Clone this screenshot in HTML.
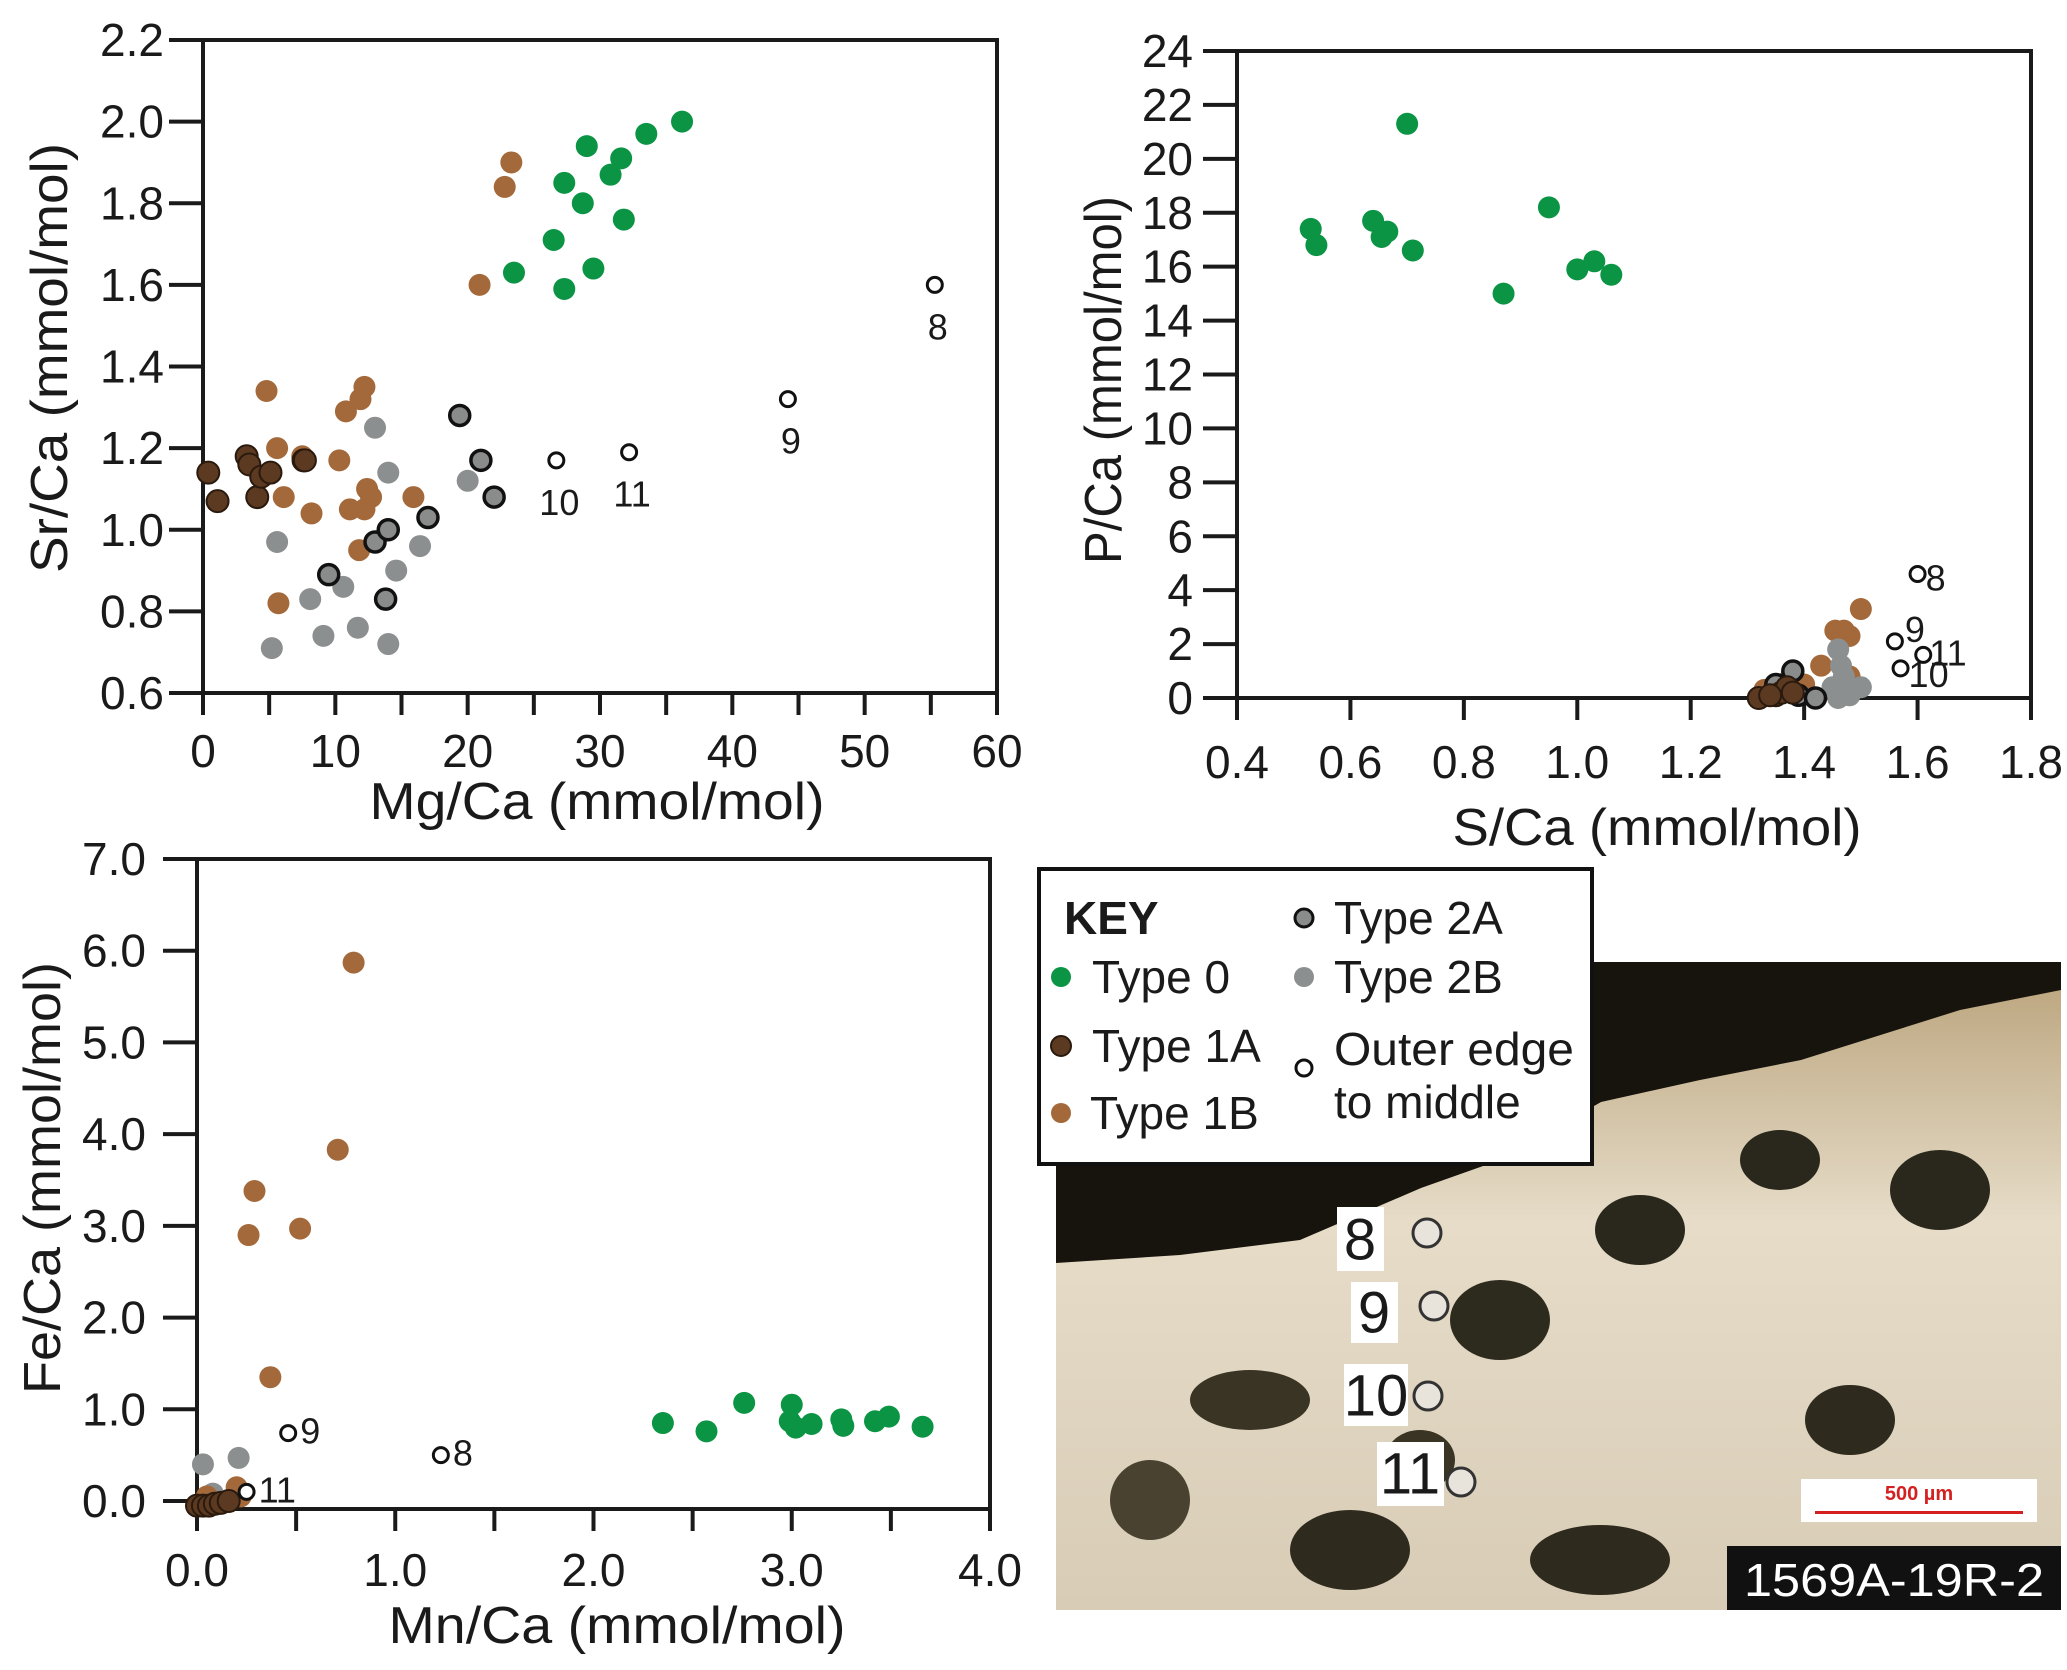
<!DOCTYPE html>
<html><head><meta charset="utf-8">
<style>
html,body{margin:0;padding:0;background:#fff;}
svg{display:block;}
text{font-family:"Liberation Sans",sans-serif;fill:#1a1a1a;}
</style></head>
<body>
<svg id="fig" width="2067" height="1670" viewBox="0 0 2067 1670" xmlns="http://www.w3.org/2000/svg">
  <rect width="2067" height="1670" fill="#fff"/>
  <g>
    <defs>
      <clipPath id="pc"><rect x="1056" y="962" width="1005" height="648"/></clipPath>
      <linearGradient id="bg" x1="0" y1="0" x2="0" y2="1">
        <stop offset="0" stop-color="#b9a27a"/><stop offset="0.4" stop-color="#e6dcc8"/><stop offset="1" stop-color="#d8ccb6"/>
      </linearGradient>
    </defs>
    <g clip-path="url(#pc)">
      <rect x="1056" y="962" width="1005" height="648" fill="url(#bg)"/>
      <ellipse cx="1250" cy="1400" rx="60" ry="30" fill="#3a3424"/>
      <ellipse cx="1500" cy="1320" rx="50" ry="40" fill="#2d2a1e"/>
      <ellipse cx="1640" cy="1230" rx="45" ry="35" fill="#2a281c"/>
      <ellipse cx="1780" cy="1160" rx="40" ry="30" fill="#2a281c"/>
      <ellipse cx="1940" cy="1190" rx="50" ry="40" fill="#2a281c"/>
      <ellipse cx="1350" cy="1550" rx="60" ry="40" fill="#2e2a1e"/>
      <ellipse cx="1600" cy="1560" rx="70" ry="35" fill="#2e2a1e"/>
      <ellipse cx="1850" cy="1420" rx="45" ry="35" fill="#2e2a1e"/>
      <ellipse cx="1150" cy="1500" rx="40" ry="40" fill="#4a4230"/>
      <ellipse cx="1420" cy="1460" rx="35" ry="30" fill="#3a3424"/>
      <path d="M1056 962 L2061 962 L2061 990 L1960 1010 L1801 1060 L1700 1080 L1601 1102 L1500 1160 L1421 1188 L1300 1240 L1180 1255 L1056 1263 Z" fill="#16140d"/>
      <rect x="1727" y="1546" width="334" height="64" fill="#111"/>
    </g>
    <rect x="1801" y="1479" width="236" height="43" fill="#fff"/>
    <text x="1919" y="1500" font-size="20" font-weight="bold" text-anchor="middle" style="fill:#d42020">500 µm</text>
    <rect x="1815" y="1511" width="208" height="3" fill="#d42020"/>
    <text x="1894" y="1580" font-size="46" text-anchor="middle" dominant-baseline="central" textLength="300" lengthAdjust="spacingAndGlyphs" style="fill:#fff">1569A-19R-2</text>
    <rect x="1337" y="1207" width="47" height="64" fill="#fff"/>
    <text x="1360" y="1240" font-size="58" text-anchor="middle" dominant-baseline="central">8</text>
    <circle cx="1427" cy="1233" r="14" fill="#e8e4dc" stroke="#333" stroke-width="3"/>
    <rect x="1351" y="1282" width="47" height="61" fill="#fff"/>
    <text x="1374" y="1313" font-size="58" text-anchor="middle" dominant-baseline="central">9</text>
    <circle cx="1434" cy="1306" r="14" fill="#e8e4dc" stroke="#333" stroke-width="3"/>
    <rect x="1344" y="1364" width="64" height="62" fill="#fff"/>
    <text x="1376" y="1396" font-size="58" text-anchor="middle" dominant-baseline="central">10</text>
    <circle cx="1428" cy="1396" r="14" fill="#e8e4dc" stroke="#333" stroke-width="3"/>
    <rect x="1377" y="1442" width="67" height="64" fill="#fff"/>
    <text x="1410" y="1474" font-size="58" text-anchor="middle" dominant-baseline="central">11</text>
    <circle cx="1461" cy="1482" r="14" fill="#e8e4dc" stroke="#333" stroke-width="3"/>
  </g>
  <g>
    <rect x="1039" y="869" width="553" height="295" fill="#fff" stroke="#111" stroke-width="4"/>
    <text x="1064" y="918" font-size="46" font-weight="bold" dominant-baseline="central">KEY</text>
    <g><circle cx="1061" cy="977" r="10" fill="#0a9444"/><text x="1092" y="977" font-size="46" dominant-baseline="central">Type 0</text></g>
    <g><circle cx="1061" cy="1046" r="10" fill="#5c3a21" stroke="#2a1a0e" stroke-width="2"/><text x="1092" y="1046" font-size="46" dominant-baseline="central">Type 1A</text></g>
    <g><circle cx="1061" cy="1113" r="10" fill="#a4693a"/><text x="1090" y="1113" font-size="46" dominant-baseline="central">Type 1B</text></g>
    <g><circle cx="1304" cy="918" r="9" fill="#8a8c8c" stroke="#111" stroke-width="3"/><text x="1334" y="918" font-size="46" dominant-baseline="central">Type 2A</text></g>
    <g><circle cx="1304" cy="977" r="10" fill="#8c8f8f"/><text x="1334" y="977" font-size="46" dominant-baseline="central">Type 2B</text></g>
    <g><circle cx="1304" cy="1068" r="8" fill="#fff" stroke="#111" stroke-width="3"/><text x="1334" y="1049" font-size="46" dominant-baseline="central" textLength="240" lengthAdjust="spacingAndGlyphs">Outer edge</text><text x="1334" y="1102" font-size="46" dominant-baseline="central">to middle</text></g>
  </g>
  <g id="charts"></g>
</svg>
<script>
// ---------- Chart 1: Mg/Ca vs Sr/Ca ----------
const c1_type0_x = [23.5,27.3,26.5,27.3,28.7,29.0,29.5,30.8,31.6,31.8,33.5,36.2];
const c1_type0_y = [1.63,1.59,1.71,1.85,1.80,1.94,1.64,1.87,1.91,1.76,1.97,2.00];
const c1_type1b_x = [4.8,5.6,5.7,6.1,7.5,8.2,10.3,10.8,11.1,11.9,12.2,12.2,12.4,12.7,11.8,15.9,20.9,22.8,23.3];
const c1_type1b_y = [1.34,1.20,0.82,1.08,1.18,1.04,1.17,1.29,1.05,1.32,1.35,1.05,1.10,1.08,0.95,1.08,1.60,1.84,1.90];
const c1_type1a_x = [0.4,1.1,3.3,3.5,4.1,4.4,5.1,7.6,7.7];
const c1_type1a_y = [1.14,1.07,1.18,1.16,1.08,1.13,1.14,1.17,1.17];
const c1_type2a_x = [9.5,13.0,13.8,14.0,17.0,19.4,21.0,22.0];
const c1_type2a_y = [0.89,0.97,0.83,1.00,1.03,1.28,1.17,1.08];
const c1_type2b_x = [5.2,5.6,8.1,9.1,10.6,11.7,13.0,14.0,14.0,14.6,16.4,20.0];
const c1_type2b_y = [0.71,0.97,0.83,0.74,0.86,0.76,1.25,1.14,0.72,0.90,0.96,1.12];
const c1_outer_x = [55.3,44.2,26.7,32.2];
const c1_outer_y = [1.60,1.32,1.17,1.19];
const c1_outer_labels = ["8","9","10","11"];
const c1_xticks = [0,10,20,30,40,50,60];
const c1_yticks = [0.6,0.8,1.0,1.2,1.4,1.6,1.8,2.0,2.2];

// ---------- Chart 2: S/Ca vs P/Ca ----------
const c2_type0_x = [0.53,0.54,0.64,0.655,0.665,0.70,0.71,0.87,0.95,1.00,1.03,1.06];
const c2_type0_y = [17.4,16.8,17.7,17.1,17.3,21.3,16.6,15.0,18.2,15.9,16.2,15.7];
const c2_type1b_x = [1.50,1.455,1.47,1.48,1.43,1.40,1.33,1.37,1.48];
const c2_type1b_y = [3.3,2.5,2.5,2.3,1.2,0.5,0.3,0.6,0.8];
const c2_type1a_x = [1.32,1.35,1.36,1.37,1.38,1.34];
const c2_type1a_y = [0.0,0.1,0.2,0.4,0.2,0.1];
const c2_type2a_x = [1.38,1.35,1.39,1.42];
const c2_type2a_y = [1.0,0.5,0.1,0.0];
const c2_type2b_x = [1.46,1.465,1.47,1.45,1.46,1.48,1.50,1.47];
const c2_type2b_y = [1.8,1.2,0.8,0.4,0.0,0.1,0.4,0.3];
const c2_outer_x = [1.60,1.56,1.57,1.61];
const c2_outer_y = [4.6,2.1,1.1,1.6];
const c2_outer_labels = ["8","9","10","11"];
const c2_xticks = [0.4,0.6,0.8,1.0,1.2,1.4,1.6,1.8];
const c2_yticks = [0,2,4,6,8,10,12,14,16,18,20,22,24];

// ---------- Chart 3: Mn/Ca vs Fe/Ca ----------
const c3_type0_x = [2.35,2.57,2.76,3.0,2.99,3.02,3.10,3.25,3.26,3.42,3.49,3.66];
const c3_type0_y = [0.85,0.76,1.07,1.05,0.87,0.80,0.84,0.89,0.82,0.87,0.92,0.81];
const c3_type1b_x = [0.79,0.71,0.29,0.26,0.52,0.37,0.20,0.22,0.05];
const c3_type1b_y = [5.87,3.83,3.38,2.90,2.97,1.35,0.15,0.05,0.05];
const c3_type1a_x = [0.0,0.03,0.06,0.09,0.12,0.16];
const c3_type1a_y = [-0.05,-0.05,-0.05,-0.03,-0.02,0.0];
const c3_type2b_x = [0.03,0.21,0.08];
const c3_type2b_y = [0.40,0.47,0.08];
const c3_outer_x = [0.46,1.23,0.25];
const c3_outer_y = [0.74,0.50,0.10];
const c3_outer_labels = ["9","8","11"];
const c3_xticks = [0.0,1.0,2.0,3.0,4.0];
const c3_yticks = [0.0,1.0,2.0,3.0,4.0,5.0,6.0,7.0];

const NS = "http://www.w3.org/2000/svg";
const root = document.getElementById('charts');
function mk(tag, attrs, parent){
  const e = document.createElementNS(NS, tag);
  for (const k in attrs) e.setAttribute(k, attrs[k]);
  (parent||root).appendChild(e);
  return e;
}
const STY = {
  type0:{fill:"#0a9444",stroke:"none",sw:0,r:11},
  type1a:{fill:"#5c3a21",stroke:"#2a1a0e",sw:2,r:11},
  type1b:{fill:"#a4693a",stroke:"none",sw:0,r:11},
  type2a:{fill:"#8a8c8c",stroke:"#111",sw:3.5,r:10},
  type2b:{fill:"#8c8f8f",stroke:"none",sw:0,r:11},
  outer:{fill:"#fff",stroke:"#111",sw:3,r:7.5}
};
function chart(cfg){
  const g = mk('g', {});
  
  
  const sx = v => cfg.L + (v - cfg.x0)/(cfg.x1 - cfg.x0)*(cfg.R - cfg.L);
  const sy = v => cfg.B - (v - cfg.y0)/(cfg.y1 - cfg.y0)*(cfg.B - cfg.T);
  const frame = mk('rect', {x:cfg.L, y:cfg.T, width:cfg.R-cfg.L, height:cfg.B-cfg.T, fill:"none", stroke:"#1a1a1a", "stroke-width":4}, g);
  
  
  cfg.yticks.forEach(v => {
    const y = sy(v);
    const t = mk('line', {x1:cfg.L-34, x2:cfg.L, y1:y, y2:y, stroke:"#1a1a1a", "stroke-width":4}, g);
    
    
    const lb = mk('text', {x:cfg.ylabX, y:y, "font-size":46, "text-anchor":"end", "dominant-baseline":"central"}, g);
    lb.textContent = cfg.yfmt(v);
    
    
  });
  cfg.xminor.forEach(v => {
    const x = sx(v);
    const t = mk('line', {x1:x, x2:x, y1:cfg.B, y2:cfg.B+22, stroke:"#1a1a1a", "stroke-width":4}, g);
    
    
  });
  cfg.xticks.forEach(v => {
    const x = sx(v);
    const lb = mk('text', {x:x, y:cfg.xlabY, "font-size":46, "text-anchor":"middle", "dominant-baseline":"central"}, g);
    lb.textContent = cfg.xfmt(v);
    
    
  });
  const xt = mk('text', {x:cfg.xtX, y:cfg.xtY, "font-size":52, "text-anchor":"middle", "dominant-baseline":"central", textLength:cfg.xtW, lengthAdjust:"spacingAndGlyphs"}, g);
  xt.textContent = cfg.xtitle;
  
  
  const yt = mk('text', {x:0, y:0, "font-size":52, "text-anchor":"middle", "dominant-baseline":"central", textLength:cfg.ytW, lengthAdjust:"spacingAndGlyphs", transform:`translate(${cfg.ytX},${cfg.ytY}) rotate(-90)`}, g);
  yt.textContent = cfg.ytitle;
  
  
  cfg.series.forEach(s => {
    const st = STY[s.type];
    s.xs.forEach((xv, i) => {
      const c = mk('circle', {cx:sx(xv), cy:sy(s.ys[i]), r:st.r, fill:st.fill, stroke:st.stroke, "stroke-width":st.sw}, g);
      
      
      if (s.labels) {
        const [dx, dy, anc] = cfg.lblOff(s.labels[i]);
        const t = mk('text', {x:sx(xv)+dx, y:sy(s.ys[i])+dy, "font-size":36, "text-anchor":anc, "dominant-baseline":"central"}, g);
        t.textContent = s.labels[i];
        
        
      }
    });
  });
}
function range(a,b,s){const r=[];for(let v=a;v<=b+1e-9;v+=s)r.push(+v.toFixed(4));return r;}

chart({name:"chart-mg-sr", L:203, R:997, T:40, B:693, x0:0, x1:60, y0:0.6, y1:2.2,
  xticks:c1_xticks, xminor:range(0,60,5), yticks:c1_yticks,
  xfmt:v=>String(v), yfmt:v=>v.toFixed(1), ylabX:164, xlabY:751,
  xtitle:"Mg/Ca (mmol/mol)", xtX:597, xtY:802, xtW:455, ytitle:"Sr/Ca (mmol/mol)", ytX:50, ytY:358, ytW:430,
  lblOff:()=>[3,42,"middle"],
  series:[
    {type:"type2b", xs:c1_type2b_x, ys:c1_type2b_y},
    {type:"type1b", xs:c1_type1b_x, ys:c1_type1b_y},
    {type:"type1a", xs:c1_type1a_x, ys:c1_type1a_y},
    {type:"type2a", xs:c1_type2a_x, ys:c1_type2a_y},
    {type:"type0", xs:c1_type0_x, ys:c1_type0_y},
    {type:"outer", xs:c1_outer_x, ys:c1_outer_y, labels:c1_outer_labels}
  ]});

chart({name:"chart-s-p", L:1237, R:2031, T:51, B:698, x0:0.4, x1:1.8, y0:0, y1:24,
  xticks:c2_xticks, xminor:c2_xticks, yticks:c2_yticks,
  xfmt:v=>v.toFixed(1), yfmt:v=>String(v), ylabX:1193, xlabY:762,
  xtitle:"S/Ca (mmol/mol)", xtX:1657, xtY:828, xtW:409, ytitle:"P/Ca (mmol/mol)", ytX:1104, ytY:380, ytW:368,
  lblOff:l=>({"8":[8,4,"start"],"9":[10,-12,"start"],"10":[8,6,"start"],"11":[6,-2,"start"]})[l],
  series:[
    {type:"type1b", xs:c2_type1b_x, ys:c2_type1b_y},
    {type:"type2b", xs:c2_type2b_x, ys:c2_type2b_y},
    {type:"type2a", xs:c2_type2a_x, ys:c2_type2a_y},
    {type:"type1a", xs:c2_type1a_x, ys:c2_type1a_y},
    {type:"type0", xs:c2_type0_x, ys:c2_type0_y},
    {type:"outer", xs:c2_outer_x, ys:c2_outer_y, labels:c2_outer_labels}
  ]});

chart({name:"chart-mn-fe", L:197, R:990, T:859, B:1509, x0:0, x1:4, y0:-0.087, y1:7.0,
  xticks:c3_xticks, xminor:range(0,4,0.5), yticks:c3_yticks,
  xfmt:v=>v.toFixed(1), yfmt:v=>v.toFixed(1), ylabX:146, xlabY:1570,
  xtitle:"Mn/Ca (mmol/mol)", xtX:617, xtY:1626, xtW:457, ytitle:"Fe/Ca (mmol/mol)", ytX:43, ytY:1178, ytW:432,
  lblOff:()=>[12,-2,"start"],
  series:[
    {type:"type2b", xs:c3_type2b_x, ys:c3_type2b_y},
    {type:"type1b", xs:c3_type1b_x, ys:c3_type1b_y},
    {type:"type1a", xs:c3_type1a_x, ys:c3_type1a_y},
    {type:"type0", xs:c3_type0_x, ys:c3_type0_y},
    {type:"outer", xs:c3_outer_x, ys:c3_outer_y, labels:c3_outer_labels}
  ]});
</script>
</body></html>
